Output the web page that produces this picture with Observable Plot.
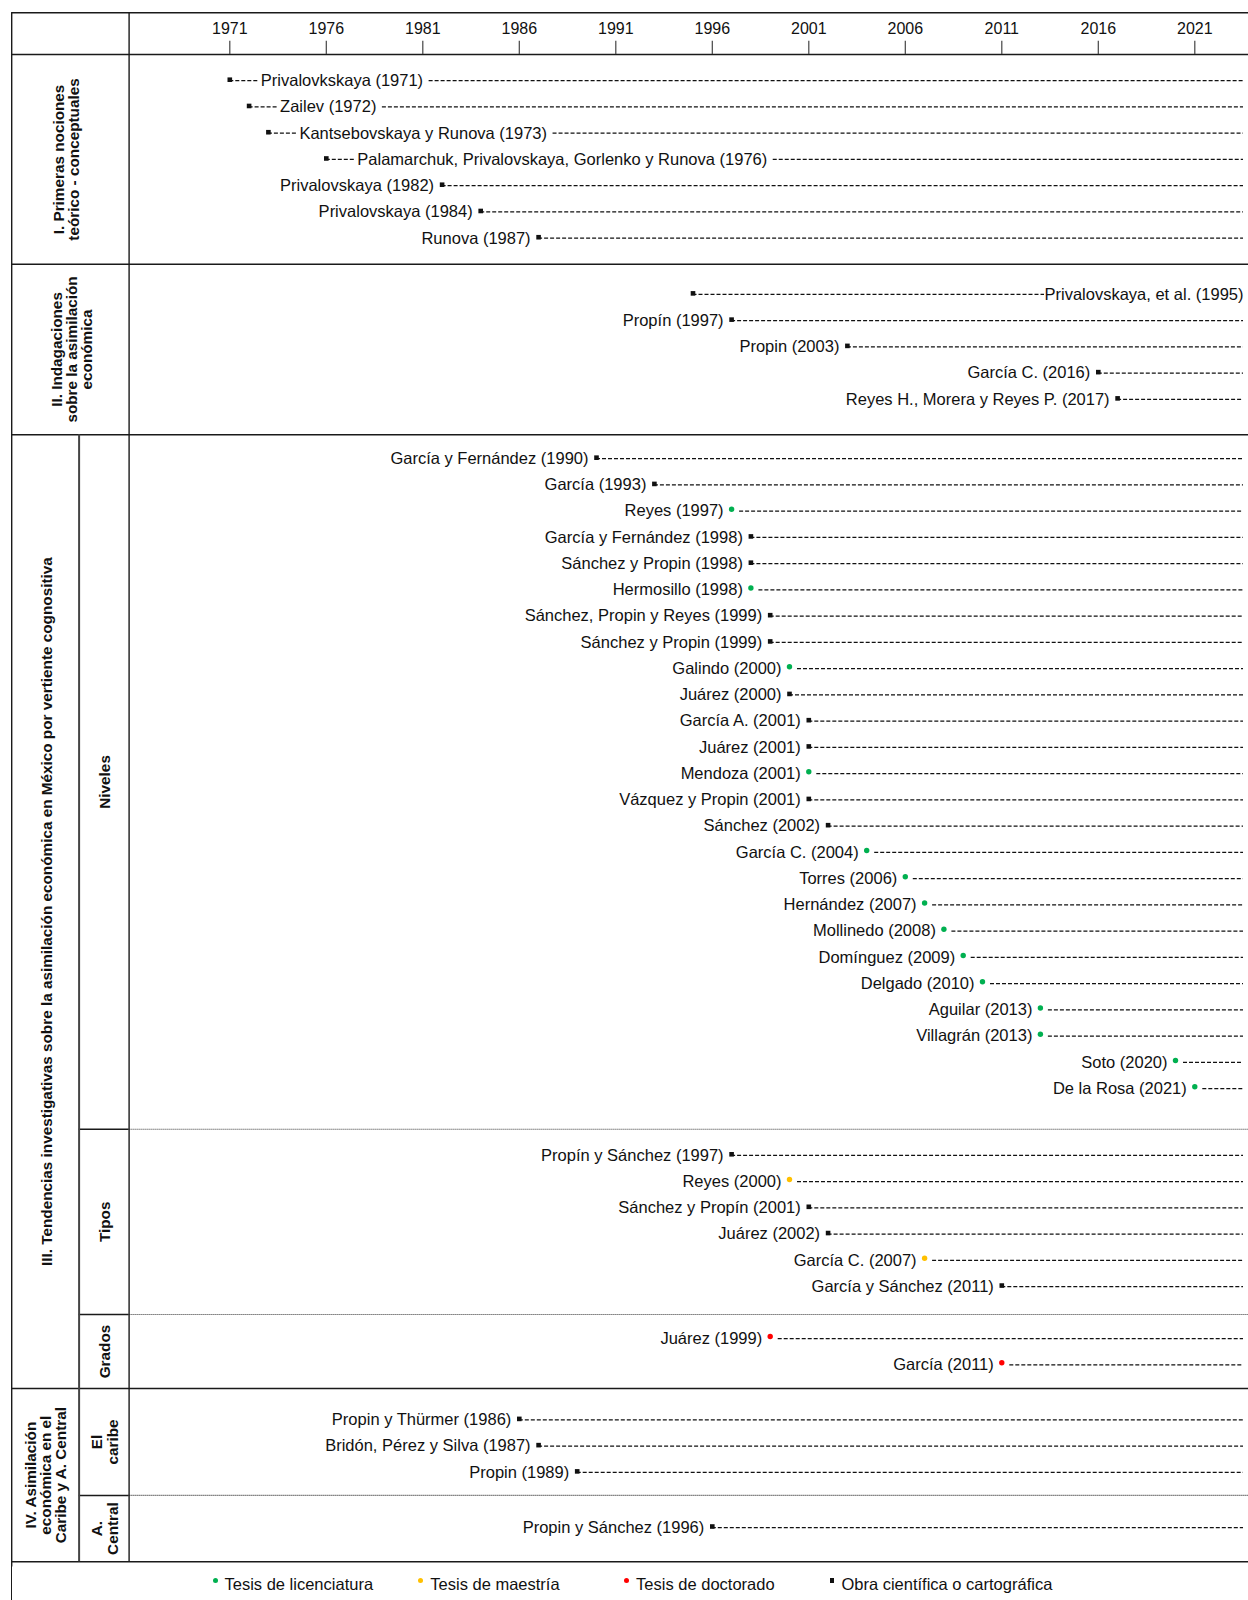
<!DOCTYPE html>
<html>
<head>
<meta charset="utf-8">
<script src="https://cdn.jsdelivr.net/npm/d3@7"></script>
<script src="https://cdn.jsdelivr.net/npm/@observablehq/plot@0.6"></script>
<style>
  body { margin: 0; background: #fff; font-family: "Liberation Sans", Arial, sans-serif; }
  #chart svg { display: block; }
  #legend { position: relative; height: 38px; margin-left: 11px; border-left: 1.4px solid #1a1a1a; }
  #legend .item { position: absolute; top: 13px; font-size: 16.5px; color: #111; white-space: nowrap; display: flex; align-items: center; }
  #legend .sym { display: inline-block; margin-right: 7px; position: relative; top: -4px; }
</style>
</head>
<body>
<div id="chart"></div>
<div id="legend"></div>
<script>
// ---------------- DATA ----------------
const anios = [1971, 1976, 1981, 1986, 1991, 1996, 2001, 2006, 2011, 2016, 2021];

// [autor, año, tipo]
const primerasNociones = [
  ["Privalovkskaya", 1971, "obra"],
  ["Zailev", 1972, "obra"],
  ["Kantsebovskaya y Runova", 1973, "obra"],
  ["Palamarchuk, Privalovskaya, Gorlenko y Runova", 1976, "obra"],
  ["Privalovskaya", 1982, "obra"],
  ["Privalovskaya", 1984, "obra"],
  ["Runova", 1987, "obra"]
];
const indagaciones = [
  ["Privalovskaya, et al.", 1995, "obra"],
  ["Propín", 1997, "obra"],
  ["Propin", 2003, "obra"],
  ["García C.", 2016, "obra"],
  ["Reyes H., Morera y Reyes P.", 2017, "obra"]
];
const niveles = [
  ["García y Fernández", 1990, "obra"],
  ["García", 1993, "obra"],
  ["Reyes", 1997, "licenciatura"],
  ["García y Fernández", 1998, "obra"],
  ["Sánchez y Propin", 1998, "obra"],
  ["Hermosillo", 1998, "licenciatura"],
  ["Sánchez, Propin y Reyes", 1999, "obra"],
  ["Sánchez y Propin", 1999, "obra"],
  ["Galindo", 2000, "licenciatura"],
  ["Juárez", 2000, "obra"],
  ["García A.", 2001, "obra"],
  ["Juárez", 2001, "obra"],
  ["Mendoza", 2001, "licenciatura"],
  ["Vázquez y Propin", 2001, "obra"],
  ["Sánchez", 2002, "obra"],
  ["García C.", 2004, "licenciatura"],
  ["Torres", 2006, "licenciatura"],
  ["Hernández", 2007, "licenciatura"],
  ["Mollinedo", 2008, "licenciatura"],
  ["Domínguez", 2009, "licenciatura"],
  ["Delgado", 2010, "licenciatura"],
  ["Aguilar", 2013, "licenciatura"],
  ["Villagrán", 2013, "licenciatura"],
  ["Soto", 2020, "licenciatura"],
  ["De la Rosa", 2021, "licenciatura"]
];
const tipos = [
  ["Propín y Sánchez", 1997, "obra"],
  ["Reyes", 2000, "maestria"],
  ["Sánchez y Propín", 2001, "obra"],
  ["Juárez", 2002, "obra"],
  ["García C.", 2007, "maestria"],
  ["García y Sánchez", 2011, "obra"]
];
const grados = [
  ["Juárez", 1999, "doctorado"],
  ["García", 2011, "doctorado"]
];
const caribe = [
  ["Propin y Thürmer", 1986, "obra"],
  ["Bridón, Pérez y Silva", 1987, "obra"],
  ["Propin", 1989, "obra"]
];
const centroamerica = [
  ["Propin y Sánchez", 1996, "obra"]
];

const titulosSecciones = [
  "I. Primeras nociones\nteórico - conceptuales",
  "II. Indagaciones\nsobre la asimilación\neconómica",
  "III. Tendencias investigativas sobre la asimilación económica en México por vertiente cognositiva",
  "IV. Asimilación\neconómica en el\nCaribe y A. Central"
];
const subsecciones = [
  { seccion: 0, nombre: null, filas: primerasNociones },
  { seccion: 1, nombre: null, filas: indagaciones },
  { seccion: 2, nombre: "Niveles", filas: niveles },
  { seccion: 2, nombre: "Tipos", filas: tipos },
  { seccion: 2, nombre: "Grados", filas: grados },
  { seccion: 3, nombre: "El\ncaribe", filas: caribe },
  { seccion: 3, nombre: "A.\nCentral", filas: centroamerica }
];

// labels written after the marker ("■----Label") and the one ending at the right edge
const etiquetaTrasMarca = ["Privalovkskaya (1971)", "Zailev (1972)", "Kantsebovskaya y Runova (1973)",
  "Palamarchuk, Privalovskaya, Gorlenko y Runova (1976)"];
const etiquetaAlFinal = ["Privalovskaya, et al. (1995)"];

const tiposDom = ["licenciatura", "maestria", "doctorado", "obra"];
const tiposCol = ["#00b050", "#ffc000", "#ff0000", "#111111"];
const leyenda = [
  ["licenciatura", "Tesis de licenciatura"],
  ["maestria", "Tesis de maestría"],
  ["doctorado", "Tesis de doctorado"],
  ["obra", "Obra científica o cartográfica"]
];

// ---------------- LAYOUT ----------------
const W = 1248;
const XDOM = [1971, 2021], XRANGE = [229.3, 1194.3];
const ROW = 26.12, Y0 = 54.1;
const PADS = [[1.0, 1.0], [1.15, 1.35], [0.92, 1.55], [1.0, 1.07], [0.92, 0.91], [1.2, 0.88], [1.23, 1.31]];
const STEP = 1.005;
const xPix = d3.scaleLinear().domain(XDOM).range(XRANGE);
const px = v => xPix.invert(v);
const X_LEFT = px(11.2), X_COL = px(128.6), X_SUB = px(78.6), X_RIGHT = px(1250);
const END_PX = 1243, X_END = px(END_PX);
const SEC_CX = [66, 72, 47, 46];
const SUB_CX = 104;
const Y_TOP = -1.6;
const FS = 16.5;
const FONT = "'Liberation Sans', Arial, sans-serif";
const TRAS_DX = 31;

// text measuring (to break leaders around labels)
const ctx = document.createElement("canvas").getContext("2d");
ctx.font = `${FS}px ${FONT}`;
const ancho = s => ctx.measureText(s).width;

// build rows
const filas = [];
const subs = [];
let cursor = 0;
subsecciones.forEach((s, i) => {
  const top = cursor;
  s.filas.forEach(([autor, anio, tipo], j) => {
    const label = `${autor} (${anio})`;
    filas.push({ autor, anio, tipo, label, y: top + PADS[i][0] + j * STEP,
      pos: etiquetaTrasMarca.includes(label) ? "tras" : etiquetaAlFinal.includes(label) ? "final" : "antes" });
  });
  const bottom = top + PADS[i][0] + (s.filas.length - 1) * STEP + PADS[i][1];
  subs.push({ ...s, top, bottom, mid: (top + bottom) / 2 });
  cursor = bottom;
});
const secciones = titulosSecciones.map((t, k) => {
  const ss = subs.filter(s => s.seccion === k);
  const top = d3.min(ss, s => s.top), bottom = d3.max(ss, s => s.bottom);
  return { titulo: t, top, bottom, mid: (top + bottom) / 2, cx: px(SEC_CX[k]), subs: ss };
});
const Y_BOTTOM = cursor;
const H = Math.round(Y0 + Y_BOTTOM * ROW) + 1;

// leader segments
const guiones = [];
filas.forEach(d => {
  const m = xPix(d.anio);
  if (d.pos === "tras") {
    guiones.push({ y: d.y, a: d.anio, b: px(m + TRAS_DX - 1) });
    guiones.push({ y: d.y, a: px(m + TRAS_DX + ancho(d.label) + 6), b: X_END });
  } else if (d.pos === "final") {
    guiones.push({ y: d.y, a: d.anio, b: px(END_PX - ancho(d.label)) });
  } else {
    guiones.push({ y: d.y, a: d.tipo === "obra" ? d.anio : px(m + 8), b: X_END });
  }
});

// grid lines
const hSolid = [{ y: Y_TOP }, { y: 0 }, ...secciones.map(s => ({ y: s.bottom }))];
const hSub = [];
secciones.forEach(s => s.subs.slice(0, -1).forEach(ss => hSub.push({ y: ss.bottom })));
const subLabels = subs.filter(s => s.nombre);
const secSub = secciones.filter(s => s.subs.some(ss => ss.nombre));

const chart = Plot.plot({
  width: W,
  height: H,
  margin: 0,
  x: { domain: XDOM, range: XRANGE, axis: null },
  y: { domain: [0, Y_BOTTOM], range: [Y0, Y0 + Y_BOTTOM * ROW], axis: null },
  color: { domain: tiposDom, range: tiposCol, legend: false },
  style: { fontFamily: FONT, background: "white", overflow: "visible" },
  marks: [
    // table frame
    Plot.ruleY(hSolid, { y: "y", x1: X_LEFT, x2: X_RIGHT, stroke: "#1a1a1a", strokeWidth: 1.5 }),
    Plot.ruleY(hSub, { y: "y", x1: X_SUB, x2: X_COL, stroke: "#1a1a1a", strokeWidth: 1.5 }),
    Plot.ruleY(hSub, { y: "y", x1: X_COL, x2: X_RIGHT, stroke: "#333", strokeWidth: 1.1, strokeDasharray: "1,1" }),
    Plot.ruleX([X_LEFT], { x: d => d, y1: Y_TOP, y2: Y_BOTTOM + 0.2, stroke: "#1a1a1a", strokeWidth: 1.4 }),
    Plot.ruleX([X_COL], { x: d => d, y1: Y_TOP, y2: Y_BOTTOM, stroke: "#1a1a1a", strokeWidth: 1.4 }),
    Plot.ruleX(secSub, { x: () => X_SUB, y1: "top", y2: "bottom", stroke: "#444", strokeWidth: 2 }),
    // header axis
    Plot.ruleX(anios, { x: d => d, y1: -0.51, y2: 0, stroke: "#444", strokeWidth: 1.2 }),
    Plot.text(anios, { x: d => d, y: () => -1.0, text: d => String(d), fontSize: 16, fill: "#111" }),
    // section labels
    Plot.text(secciones, { x: "cx", y: "mid", text: "titulo", rotate: -90, fontSize: 15.3, fontWeight: "bold", lineHeight: 0.98, fill: "#111" }),
    Plot.text(subLabels, { x: () => px(SUB_CX), y: "mid", text: "nombre", rotate: -90, fontSize: 15.3, fontWeight: "bold", lineHeight: 1.08, fill: "#111" }),
    // dashed leaders
    Plot.ruleY(guiones, { y: "y", x1: "a", x2: "b", stroke: "#111", strokeWidth: 1.25, strokeDasharray: "4,2" }),
    // markers
    Plot.dot(filas.filter(d => d.tipo !== "obra"), { x: "anio", y: "y", r: 2.7, fill: "tipo", dy: -2 }),
    Plot.dot(filas.filter(d => d.tipo === "obra"), { x: "anio", y: "y", r: 2.6, symbol: "square", fill: "tipo", dy: -1 }),
    // labels
    Plot.text(filas.filter(d => d.pos === "antes"), { x: "anio", y: "y", text: "label", textAnchor: "end", dx: -8, fontSize: FS, fill: "#111" }),
    Plot.text(filas.filter(d => d.pos === "tras"), { x: "anio", y: "y", text: "label", textAnchor: "start", dx: TRAS_DX, fontSize: FS, fill: "#111" }),
    Plot.text(filas.filter(d => d.pos === "final"), { x: () => X_END, y: "y", text: "label", textAnchor: "end", fontSize: FS, fill: "#111" })
  ]
});
document.getElementById("chart").append(chart);

// legend (HTML, below the SVG)
const leg = d3.select("#legend");
leyenda.forEach(([tipo, texto], i) => {
  const it = leg.append("div").attr("class", "item").style("left", (200.5 + i * 205.8) + "px");
  const col = tiposCol[tiposDom.indexOf(tipo)];
  const sym = it.append("span").attr("class", "sym").style("background", col);
  if (tipo === "obra") sym.style("width", "4.5px").style("height", "4.5px");
  else sym.style("width", "5px").style("height", "5px").style("border-radius", "50%");
  it.append("span").text(texto);
});
</script>
</body>
</html>
